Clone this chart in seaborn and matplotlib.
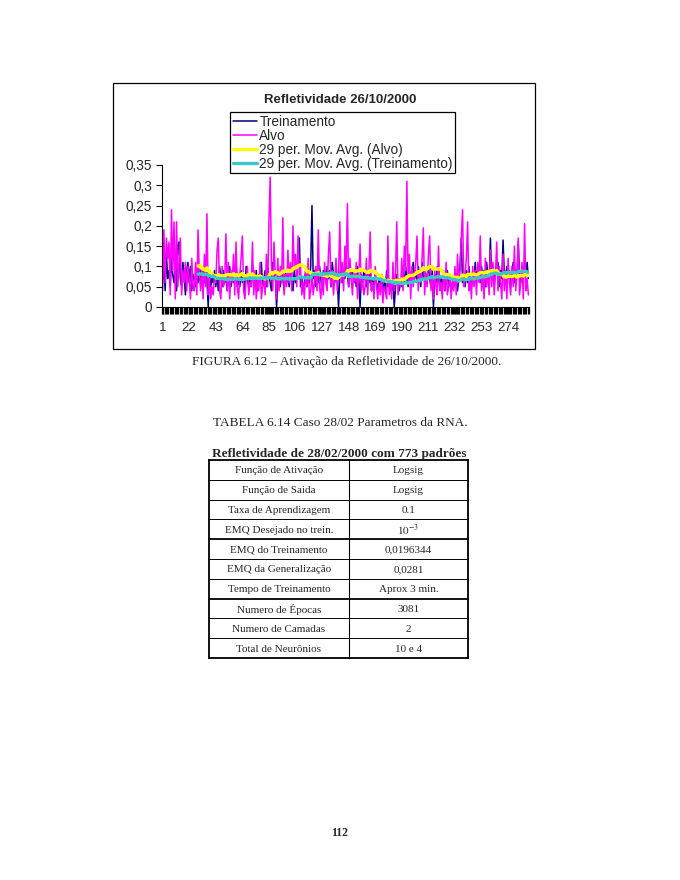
import numpy as np
import pandas as pd
import matplotlib
matplotlib.use("Agg")
import matplotlib.pyplot as plt
import seaborn as sns
from matplotlib.patches import Rectangle

# -------------------------
# Data
# -------------------------

# Alvo (target) series, points 1..290
alvo = [
    0.04, 0.19, 0.06, 0.17, 0.12, 0.16, 0.03, 0.24, 0.09, 0.21,
    0.02, 0.21, 0.05, 0.11, 0.17, 0.03, 0.09, 0.06, 0.11, 0.04,
    0.10, 0.07, 0.02, 0.12, 0.05, 0.04, 0.11, 0.03, 0.19, 0.08,
    0.04, 0.09, 0.02, 0.13, 0.05, 0.23, 0.03, 0.07, 0.02, 0.05,
    0.03, 0.08, 0.06, 0.14, 0.17, 0.04, 0.02, 0.10, 0.05, 0.06,
    0.18, 0.04, 0.11, 0.02, 0.09, 0.06, 0.13, 0.03, 0.16, 0.05,
    0.02, 0.08, 0.12, 0.175, 0.04, 0.02, 0.07, 0.10, 0.03, 0.06,
    0.05, 0.16, 0.03, 0.09, 0.02, 0.07, 0.04, 0.11, 0.02, 0.05,
    0.07, 0.03, 0.13, 0.05, 0.21, 0.32, 0.10, 0.04, 0.16, 0.08,
    0.02, 0.12, 0.04, 0.10, 0.06, 0.22, 0.03, 0.08, 0.05, 0.14,
    0.06, 0.11, 0.04, 0.20, 0.09, 0.13, 0.05, 0.175, 0.07, 0.10,
    0.03, 0.06, 0.02, 0.09, 0.05, 0.12, 0.02, 0.04, 0.08, 0.03,
    0.06, 0.10, 0.04, 0.19, 0.05, 0.02, 0.08, 0.03, 0.11, 0.06,
    0.04, 0.13, 0.185, 0.05, 0.09, 0.03, 0.07, 0.12, 0.04, 0.08,
    0.21, 0.06, 0.11, 0.04, 0.15, 0.09, 0.255, 0.05, 0.12, 0.07,
    0.03, 0.09, 0.06, 0.11, 0.02, 0.08, 0.155, 0.04, 0.07, 0.03,
    0.05, 0.12, 0.03, 0.09, 0.185, 0.04, 0.06, 0.02, 0.10, 0.05,
    0.02, 0.06, 0.03, 0.08, 0.01, 0.05, 0.04, 0.02, 0.175, 0.03,
    0.06, 0.02, 0.11, 0.04, 0.08, 0.21, 0.03, 0.07, 0.05, 0.12,
    0.04, 0.15, 0.09, 0.31, 0.06, 0.13, 0.02, 0.10, 0.05, 0.08,
    0.11, 0.175, 0.04, 0.09, 0.06, 0.12, 0.195, 0.03, 0.08, 0.05,
    0.13, 0.175, 0.04, 0.07, 0.02, 0.09, 0.05, 0.03, 0.15, 0.04,
    0.06, 0.02, 0.09, 0.04, 0.11, 0.03, 0.05, 0.08, 0.02, 0.07,
    0.04, 0.10, 0.03, 0.13, 0.06, 0.09, 0.17, 0.24, 0.05, 0.08,
    0.12, 0.21, 0.04, 0.07, 0.02, 0.10, 0.05, 0.09, 0.03, 0.11,
    0.06, 0.175, 0.04, 0.08, 0.02, 0.12, 0.05, 0.09, 0.03, 0.14,
    0.05, 0.11, 0.03, 0.08, 0.16, 0.04, 0.10, 0.06, 0.02, 0.13,
    0.04, 0.09, 0.02, 0.12, 0.06, 0.03, 0.10, 0.05, 0.15, 0.04,
    0.08, 0.17, 0.03, 0.06, 0.11, 0.02, 0.205, 0.04, 0.07, 0.03,
]

# Treinamento (network output) series, points 1..290
treinamento = [
    0.06, 0.10, 0.04, 0.13, 0.07, 0.09, 0.05, 0.12, 0.08, 0.06,
    0.10, 0.04, 0.15, 0.16, 0.07, 0.05, 0.11, 0.08, 0.03, 0.09,
    0.11, 0.06, 0.10, 0.04, 0.08, 0.07, 0.05, 0.09, 0.06, 0.10,
    0.08, 0.05, 0.09, 0.06, 0.10, 0.07, 0.00, 0.08, 0.05, 0.07,
    0.06, 0.09, 0.05, 0.08, 0.04, 0.10, 0.07, 0.05, 0.09, 0.06,
    0.08, 0.04, 0.07, 0.10, 0.05, 0.08, 0.06, 0.09, 0.11, 0.05,
    0.07, 0.05, 0.09, 0.06, 0.08, 0.04, 0.10, 0.07, 0.05, 0.08,
    0.06, 0.10, 0.05, 0.07, 0.09, 0.04, 0.08, 0.06, 0.11, 0.05,
    0.07, 0.09, 0.05, 0.10, 0.08, 0.06, 0.04, 0.11, 0.07, 0.09,
    0.00, 0.06, 0.08, 0.05, 0.10, 0.07, 0.04, 0.09, 0.06, 0.08,
    0.05, 0.10, 0.07, 0.04, 0.09, 0.06, 0.08, 0.12, 0.17, 0.05,
    0.07, 0.04, 0.06, 0.09, 0.05, 0.08, 0.06, 0.10, 0.25, 0.07,
    0.09, 0.05, 0.08, 0.06, 0.10, 0.07, 0.04, 0.09, 0.08, 0.06,
    0.10, 0.07, 0.09, 0.05, 0.11, 0.08, 0.06, 0.10, 0.07, 0.00,
    0.08, 0.10, 0.06, 0.09, 0.07, 0.11, 0.08, 0.05, 0.10, 0.07,
    0.09, 0.06, 0.08, 0.05, 0.10, 0.07, 0.00, 0.08, 0.06, 0.09,
    0.07, 0.05, 0.08, 0.06, 0.09, 0.04, 0.07, 0.05, 0.08, 0.06,
    0.04, 0.07, 0.05, 0.08, 0.03, 0.06, 0.04, 0.09, 0.05, 0.07,
    0.06, 0.04, 0.07, 0.00, 0.05, 0.08, 0.06, 0.04, 0.07, 0.05,
    0.08, 0.06, 0.10, 0.07, 0.05, 0.09, 0.06, 0.08, 0.11, 0.07,
    0.09, 0.06, 0.10, 0.08, 0.05, 0.11, 0.07, 0.09, 0.06, 0.08,
    0.10, 0.07, 0.05, 0.09, 0.00, 0.08, 0.06, 0.10, 0.07, 0.05,
    0.07, 0.05, 0.08, 0.04, 0.06, 0.09, 0.05, 0.07, 0.04, 0.06,
    0.05, 0.08, 0.06, 0.04, 0.07, 0.10, 0.17, 0.06, 0.08, 0.05,
    0.09, 0.06, 0.10, 0.07, 0.05, 0.08, 0.06, 0.11, 0.07, 0.09,
    0.08, 0.06, 0.10, 0.07, 0.09, 0.05, 0.11, 0.08, 0.06, 0.17,
    0.07, 0.10, 0.06, 0.09, 0.08, 0.11, 0.05, 0.09, 0.07, 0.165,
    0.08, 0.06, 0.10, 0.07, 0.09, 0.05, 0.08, 0.11, 0.06, 0.09,
    0.07, 0.16, 0.08, 0.06, 0.10, 0.07, 0.09, 0.08, 0.11, 0.07,
]

x_tick_labels = [1, 22, 43, 64, 85, 106, 127, 148, 169, 190, 211, 232, 253, 274]
y_ticks = [0, 0.05, 0.1, 0.15, 0.2, 0.25, 0.3, 0.35]
y_tick_labels = ["0", "0,05", "0,1", "0,15", "0,2", "0,25", "0,3", "0,35"]

param_names = [
    "Função de Ativação", "Função de Saida", "Taxa de Aprendizagem",
    "EMQ Desejado no trein.", "EMQ do Treinamento", "EMQ da Generalização",
    "Tempo de Treinamento", "Numero de Épocas", "Numero de Camadas",
    "Total de Neurônios",
]
param_values = [
    "Logsig", "Logsig", "0.1", r"$10^{-3}$", "0,0196344", "0,0281",
    "Aprox 3 min.", "3081", "2", "10 e 4",
]

# -------------------------
# Style
# -------------------------
sns.set_style("white")
plt.rcParams['font.family'] = ['Liberation Sans', 'DejaVu Sans']
plt.rcParams['mathtext.fontset'] = 'stix'
serif = ['Liberation Serif', 'DejaVu Serif']

df = pd.DataFrame({
    "ponto": np.arange(1, len(alvo) + 1),
    "Alvo": alvo,
    "Treinamento": treinamento,
})
df["mm_alvo"] = df["Alvo"].rolling(29).mean()
df["mm_trein"] = df["Treinamento"].rolling(29).mean()

W, H = 680, 880
fig = plt.figure(figsize=(6.8, 8.8), dpi=100)

# chart frame
fig.add_artist(Rectangle((113 / W, 1 - 349 / H), (535 - 113) / W, (349 - 83) / H,
                         transform=fig.transFigure, fill=False, ec="black", lw=0.9))

ax = fig.add_axes([162 / W, 1 - 307 / H, (529 - 162) / W, (307 - 165) / H])
sns.lineplot(data=df, x="ponto", y="Treinamento", color="#000080", lw=1.1,
             ax=ax, label="Treinamento")
sns.lineplot(data=df, x="ponto", y="Alvo", color="#FF00FF", lw=1.1,
             ax=ax, label="Alvo")
sns.lineplot(data=df, x="ponto", y="mm_alvo", color="#FFFF00", lw=2.4,
             ax=ax, label="29 per. Mov. Avg. (Alvo)")
sns.lineplot(data=df, x="ponto", y="mm_trein", color="#3EC6C6", lw=2.4,
             ax=ax, label="29 per. Mov. Avg. (Treinamento)")

ax.set_xlim(0.5, len(alvo) + 0.5)
ax.set_ylim(0, 0.35)
ax.set_yticks(y_ticks)
ax.set_yticklabels(y_tick_labels, fontsize=9.8)
ax.set_xticks(x_tick_labels)
ax.set_xticklabels([str(v) for v in x_tick_labels], fontsize=9.6)
ax.set_xticks(np.arange(0.5, len(alvo) + 1, 1), minor=True)
ax.tick_params(axis="x", which="both", bottom=True, direction="out", length=5,
               width=0.9, color="black", pad=6)
ax.tick_params(axis="y", left=True, direction="out", length=4, width=0.8,
               color="black", pad=3)
ax.set_xlabel("")
ax.set_ylabel("")
for side in ["top", "right"]:
    ax.spines[side].set_visible(False)
for side in ["left", "bottom"]:
    ax.spines[side].set_color("black")
    ax.spines[side].set_linewidth(0.8)
ax.grid(False)

leg = ax.legend(loc="upper left", bbox_to_anchor=(230 / W, 1 - 112 / H),
                bbox_transform=fig.transFigure, frameon=True, fancybox=False,
                edgecolor="black", framealpha=1, borderpad=0.2, labelspacing=0.0,
                handlelength=1.8, handletextpad=0.15, borderaxespad=0,
                fontsize=9.8)
leg.get_frame().set_linewidth(0.9)

fig.text(340 / W, 1 - 100 / H, "Refletividade 26/10/2000", ha="center",
         va="center", fontsize=9.5, fontweight="bold")

# captions
fig.text(347 / W, 1 - 362 / H, "FIGURA 6.12 – Ativação da Refletividade de 26/10/2000.",
         ha="center", va="center", fontsize=9.5, family=serif)
fig.text(340 / W, 1 - 423 / H, "TABELA 6.14 Caso 28/02 Parametros da RNA.",
         ha="center", va="center", fontsize=9.5, family=serif)
fig.text(339 / W, 1 - 454 / H, "Refletividade de 28/02/2000 com 773 padrões",
         ha="center", va="center", fontsize=9.5, fontweight="bold", family=serif)

# -------------------------
# Table
# -------------------------
tax = fig.add_axes([209 / W, 1 - 658 / H, (468 - 209) / W, (658 - 460) / H])
tax.set_xlim(0, 1)
tax.set_ylim(len(param_names), 0)
tax.axis("off")
split = (349 - 209) / (468 - 209)
thick_rows = {0, 4, 7, len(param_names)}
for i in range(len(param_names) + 1):
    tax.plot([0, 1], [i, i], color="black", lw=1.3 if i in thick_rows else 0.7,
             clip_on=False, solid_capstyle="projecting")
for xv, lw in [(0, 1.3), (split, 0.8), (1, 1.3)]:
    tax.plot([xv, xv], [0, len(param_names)], color="black", lw=lw, clip_on=False)
for i, (name, val) in enumerate(zip(param_names, param_values)):
    tax.text(split / 2, i + 0.55, name, ha="center", va="center", fontsize=8,
             family=serif)
    tax.text((split + 1) / 2, i + 0.55, val, ha="center", va="center", fontsize=8,
             family=serif)

fig.text(340 / W, 1 - 833 / H, "112", ha="center", va="center", fontsize=8.5,
         family=serif, fontweight="bold")

fig.savefig("out.png", dpi=100)
